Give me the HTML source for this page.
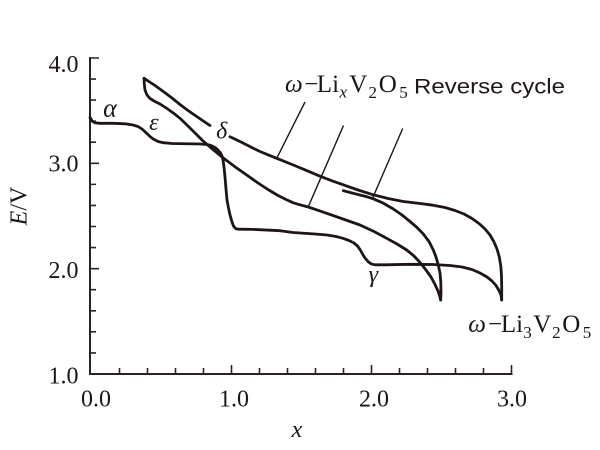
<!DOCTYPE html>
<html>
<head>
<meta charset="utf-8">
<style>
  html,body{margin:0;padding:0;background:#fff;}
  svg{display:block;}
  .serif{font-family:"Liberation Serif","DejaVu Serif",serif;fill:#1e1616;}
  .it{font-style:italic;}
  .sans{font-family:"Liberation Sans","DejaVu Sans",sans-serif;fill:#1e1616;}
</style>
</head>
<body>
<svg width="600" height="450" viewBox="0 0 600 450" xmlns="http://www.w3.org/2000/svg">
  <rect width="600" height="450" fill="#fff"/>

  <!-- axes -->
  <g stroke="#2a2222" stroke-width="2" fill="none" stroke-linecap="square">
    <path d="M90,58 V374 H511.5"/>
  </g>
  <!-- y ticks -->
  <g stroke="#2a2222" stroke-width="1.6" fill="none">
    <path d="M90,352.93 h6 M90,331.86 h6 M90,310.79 h6 M90,289.72 h6 M90,268.65 h9
             M90,247.58 h6 M90,226.51 h6 M90,205.44 h6 M90,184.37 h6 M90,163.3 h9
             M90,142.23 h6 M90,121.16 h6 M90,100.09 h6 M90,79.02 h6 M90,58 h9"/>
    <!-- x ticks -->
    <path d="M119.5,374 v-6 M147.5,374 v-6 M175.5,374 v-6 M203.5,374 v-6 M231.5,374 v-9
             M259.5,374 v-6 M287.5,374 v-6 M315.5,374 v-6 M343.5,374 v-6 M371.5,374 v-9
             M399.5,374 v-6 M427.5,374 v-6 M455.5,374 v-6 M483.5,374 v-6 M511.5,374 v-9"/>
  </g>

  <!-- tick labels -->
  <g class="serif" font-size="24" text-anchor="end">
    <text x="78.5" y="72">4.0</text>
    <text x="78.5" y="171.5">3.0</text>
    <text x="78.5" y="278">2.0</text>
    <text x="78.5" y="383.5">1.0</text>
  </g>
  <g class="serif" font-size="24" text-anchor="middle">
    <text x="96" y="406.7">0.0</text>
    <text x="234" y="406.7">1.0</text>
    <text x="374" y="406.7">2.0</text>
    <text x="512" y="406.7">3.0</text>
  </g>

  <!-- axis titles -->
  <text class="serif it" font-size="24" x="297" y="437" text-anchor="middle">x</text>
  <text class="serif" font-size="24" transform="translate(26.5,206) rotate(-90)" text-anchor="middle"><tspan font-style="italic">E</tspan>/V</text>

  <!-- curves -->
  <g stroke="#1e1616" stroke-width="2.8" fill="none" stroke-linejoin="round" stroke-linecap="round">
    <path d="M90,117.5 L92,121 L95,122.8 L100,123.3 L113,123.3 L125,123.8 L133,125 L138,126.5 L142,129 L146.7,133.3 L150,136.5 L153.3,139 L158,141.5 L163.3,142.7 L172,143.5 L200,144 L207,144.5 L211,145.5 L215,147.5 L218,150 L220.5,153 L222,156 L223,160 L224,167 L225,177 L226,189 L227,200 L228.5,208 L230,215 L232,222 L233.5,226 L235.5,228.5 L238,229.2 L253,229.4 L280,230.7 L293,232.5 L315,234 L327,235 L336,236.5 L343,238.3 L349,240.5 L354,243 L357.5,246 L360,249.5 L362.5,254 L365,258 L368,261.5 L371,263.8 L375,264.8 L385,264.8 L410,264.3 L433,264.5 L450,265.5 L462,267 L472,269.5 L480,273 L487,277 L492,281 L496,285.5 L499,290.5 L501,295 L501.7,300"/>
    <path d="M144,78.3 L155,85.5 L163.3,91.5 L172,98 L180,104.5 L188,110.5 L196.7,116.5 L204,121.5 L210,125.5"/>
    <path d="M230,136.7 L242,142.5 L253.3,148.3 L260,151.5 L268,154.8 L276.7,158.3 L293.3,165 L307,170.7 L320,176.2 L332,180.8 L343.3,184.8 L358,190 L373.3,194.8 L388,198.5 L403.3,201.5 L420,203.5 L433,205.2 L445,207.5 L455,210.5 L464,214 L472,218.5 L479,223.5 L485,229 L490,235 L494,242 L497,249 L499.3,257 L500.8,266 L501.5,276 L501.7,288 L501.7,300"/>
    <path d="M144,78.3 L144.3,84 L145,90 L147,95 L150,98.5 L155,101.5 L160,104 L167,108.5 L174,113.5 L180,118.3 L190,128 L203.3,141.2 L213,149.5 L223.3,158 L235,166.8 L246.7,175 L258,183 L268,189.5 L278,195.5 L286,199.5 L293.3,202.8 L300,204.8 L308.3,207 L318,210.3 L326.7,213.3 L343,219 L360,225 L374,231.5 L386.7,238.3 L397,244 L406.7,250 L414,256 L420,262.5 L426,270 L431,277 L435,284.5 L438,291 L439.7,296 L440.7,300"/>
    <path d="M440.7,300 L441,292 L440.8,282 L440,273 L438.5,266 L436,257 L433.3,250 L429,241.5 L423.3,234 L417,227.5 L410,221.5 L402,215 L393.3,209 L383,203 L373.3,198.8 L366,196.5 L360,195 L352,193 L343.3,190.7"/>
  </g>

  <!-- leader lines -->
  <g stroke="#1e1616" stroke-width="1.4" fill="none">
    <path d="M305,102 L276.7,158.3"/>
    <path d="M343.5,125.5 L308.3,206.7"/>
    <path d="M402.7,128.5 L372.5,198.3"/>
  </g>

  <!-- greek labels -->
  <g class="serif it" text-anchor="middle">
    <text x="110" y="116.7" font-size="26">α</text>
    <text x="153.8" y="130" font-size="24">ε</text>
    <text x="221.7" y="138.3" font-size="24">δ</text>
    <text x="373.3" y="282" font-size="24">γ</text>
  </g>

  <!-- top label -->
  <g class="serif" font-size="25">
    <text x="285" y="92" font-style="italic">ω</text>
    <text x="304.3" y="92">−</text>
    <text x="316.8" y="92">Li</text>
    <text x="339.5" y="97.5" font-size="17" font-style="italic">x</text>
    <text x="349.2" y="92">V</text>
    <text x="368.5" y="98" font-size="17">2</text>
    <text x="378.7" y="92">O</text>
    <text x="399.2" y="98" font-size="17">5</text>
  </g>
  <text class="sans" x="414" y="93.3" font-size="21" textLength="151" lengthAdjust="spacingAndGlyphs">Reverse cycle</text>

  <!-- bottom label -->
  <g class="serif" font-size="25">
    <text x="468.3" y="332" font-style="italic">ω</text>
    <text x="488" y="332">−</text>
    <text x="500.9" y="332">Li</text>
    <text x="523.2" y="338" font-size="17">3</text>
    <text x="533.2" y="332">V</text>
    <text x="552.1" y="338" font-size="17">2</text>
    <text x="562.2" y="332">O</text>
    <text x="582.8" y="338" font-size="17">5</text>
  </g>
</svg>
</body>
</html>
